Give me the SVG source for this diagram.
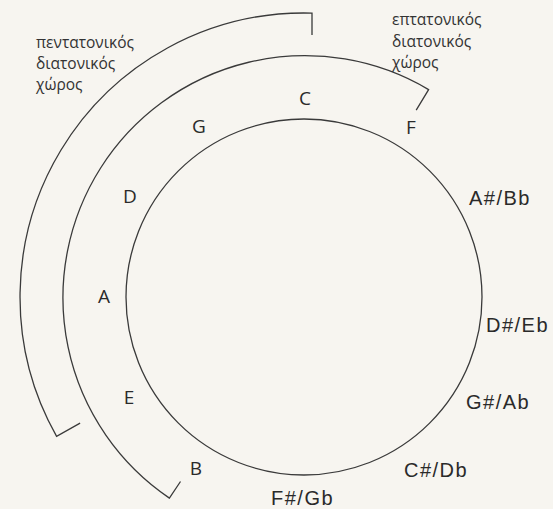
<svg xmlns="http://www.w3.org/2000/svg" width="553" height="509" viewBox="0 0 553 509">
<style>
.ln{fill:none;stroke:#3a3a3a;stroke-width:1.3}
.gr{font-family:"Open Sans","Noto Sans",sans-serif;font-size:15.5px;fill:#333}
.nt{font-family:"Open Sans","Noto Sans",sans-serif;font-size:19px;fill:#2a2a2a;text-anchor:middle}
.ch{font-family:"Liberation Sans",Arial,sans-serif;font-size:20px;fill:#2a2a2a;letter-spacing:1.5px}
</style>
<rect width="553" height="509" fill="#f7f5f0"/>
<g id="connectors">
<circle class="ln" cx="304" cy="297" r="178"/>
<path class="ln" d="M416.2,110.2 L428.6,89.6 A242,242 0 0 0 169.4,498.1 L180.5,481.5"/>
<path class="ln" d="M312,35 L312,13.1 A284,284 0 0 0 56.6,436.4 L80.1,423.1"/>
</g>
<g id="label-pentatonic">
<text class="gr" x="36" y="48">πεντατονικός</text>
<text class="gr" x="36" y="69">διατονικός</text>
<text class="gr" x="36" y="90">χώρος</text>
</g>
<g id="label-heptatonic">
<text class="gr" x="392" y="25">επτατονικός</text>
<text class="gr" x="392" y="47">διατονικός</text>
<text class="gr" x="392" y="68">χώρος</text>
</g>
<g id="node-C"><text class="nt" x="305" y="105">C</text></g>
<g id="node-F"><text class="nt" x="411" y="134">F</text></g>
<g id="node-G"><text class="nt" x="199" y="133">G</text></g>
<g id="node-D"><text class="nt" x="130" y="203">D</text></g>
<g id="node-A"><text class="nt" x="104" y="303">A</text></g>
<g id="node-E"><text class="nt" x="129" y="404">E</text></g>
<g id="node-B"><text class="nt" x="196" y="475">B</text></g>
<g id="node-ASBb"><text class="ch" x="469" y="205">A#/Bb</text></g>
<g id="node-DSEb"><text class="ch" x="486" y="332">D#/Eb</text></g>
<g id="node-GSAb"><text class="ch" x="466" y="409">G#/Ab</text></g>
<g id="node-CSDb"><text class="ch" x="404" y="477">C#/Db</text></g>
<g id="node-FSGb"><text class="ch" x="271" y="505">F#/Gb</text></g>
</svg>
